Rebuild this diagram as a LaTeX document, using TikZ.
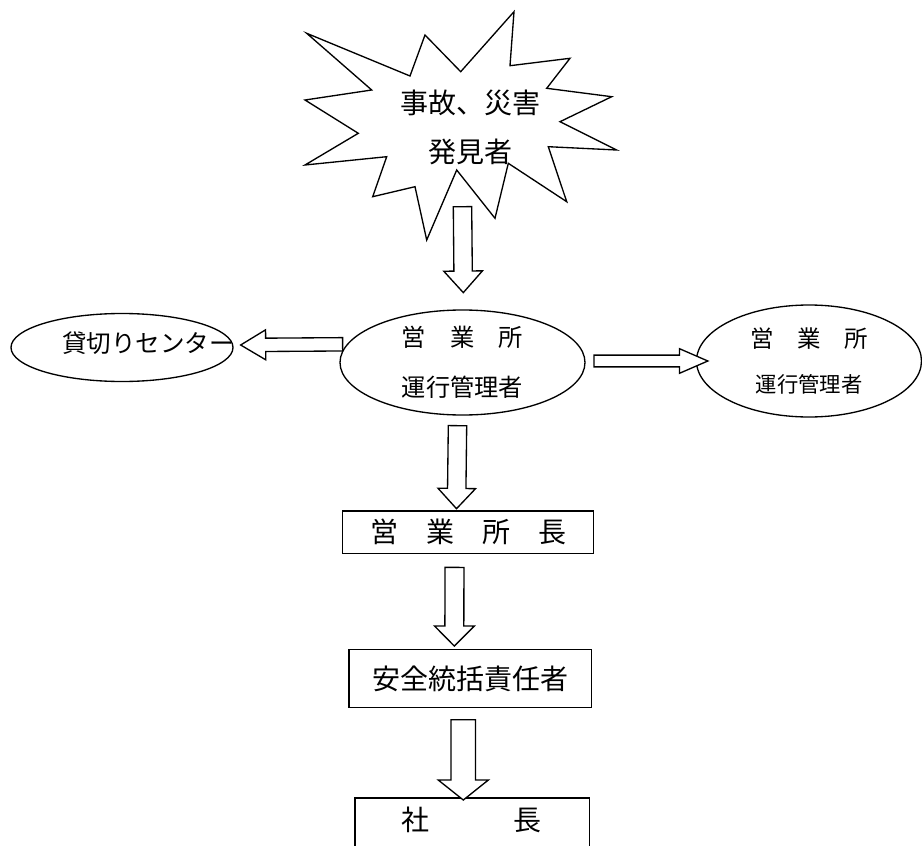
\documentclass[tikz,border=0pt]{standalone}
\usepackage{fontspec}
\setmainfont{Noto Sans CJK JP}
\usetikzlibrary{calc,shapes.geometric}
\newcommand{\jpsize}[2]{\fontsize{#1}{#2}\selectfont}
%% Block arrow: start, tip, shaft half width, head half width, head length
\newcommand{\blockarrow}[5]{%
  \coordinate (ba-h) at ($(#2)!#5!(#1)$);
  \draw[blockline] ($(#1)!#3!90:(#2)$) -- ($(ba-h)!#3!90:(#2)$)
    -- ($(ba-h)!#4!90:(#2)$) -- (#2) -- ($(ba-h)!#4!-90:(#2)$)
    -- ($(ba-h)!#3!-90:(#2)$) -- ($(#1)!#3!-90:(#2)$) -- cycle;}
\tikzset{
  oval/.style={ellipse, draw, line width=1pt, inner sep=0pt, align=center},
  box/.style={rectangle, draw, line width=1pt, inner sep=0pt, align=center},
  blockline/.style={line width=1pt, line join=miter, fill=white, draw},
  burst/.style={draw, line width=1pt, line join=miter}
}

\begin{document}
\begin{tikzpicture}[x=0.75pt,y=-0.75pt]
\useasboundingbox (0,0) rectangle (922,846);

%% Draw the burst and place the finder text in it
\draw[burst] (306.7,33.3) -- (410,76) -- (425,35) -- (460.7,71.7) -- (514,11.7)
  -- (510,65.7) -- (570,58.3) -- (546.7,88.3) -- (611.7,96.7) -- (560,121.7)
  -- (616.7,150) -- (548.3,146.7) -- (566.7,201.7) -- (508.3,163.3) -- (495,218.3)
  -- (456.7,170) -- (426.7,240) -- (415,186.7) -- (372.7,196.7) -- (386.7,156.7)
  -- (305,165) -- (358.3,133.3) -- (305,100) -- (371.7,90) -- cycle;
\node[font=\jpsize{21pt}{36.75pt}, align=center] (finder) at (470,127.5) {事故、災害\\発見者};

%% Place the office ellipse, the rental centre and the second office
\node[oval, minimum width=183.75pt, minimum height=78.75pt, font=\jpsize{18.2pt}{37.5pt}]
  (office) at (462.5,362.5) {営　業　所\\運行管理者};
\node[oval, minimum width=166.5pt, minimum height=51pt] (rental) at (122,347.5) {};
\node[font=\jpsize{18.4pt}{22pt}] at ($(rental)+(26,-4.5)$) {貸切りセンター};
\node[oval, minimum width=168.75pt, minimum height=84pt, font=\jpsize{17.6pt}{33.75pt}]
  (office2) at (809,361) {営　業　所\\\fontsize{16pt}{33.75pt}\selectfont 運行管理者};

%% Place the boxes down the chain
\node[box, minimum width=188pt, minimum height=31.7pt, font=\jpsize{21pt}{25pt}]
  (chief) at (468,532.2) {営　業　所　長};
\node[box, minimum width=182pt, minimum height=43.8pt, font=\jpsize{21pt}{25pt}]
  (safety) at (470.3,678.5) {安全統括責任者};
\node[box, minimum width=175.7pt, minimum height=60pt, anchor=north] (president) at (472.2,797.3) {};
\node[font=\jpsize{21pt}{25pt}] at ($(president.north)+(-1,22.7)$) {社　　　長};

%% Arrow ends
\coordinate (a1s) at (462.5,206.7);
\coordinate (a1t) at ($(office.north)+(0.8,-16.7)$);
\coordinate (a2s) at ($(office.west)+(3.3,-18.2)$);
\coordinate (a2t) at ($(rental.east)+(7,-2.5)$);
\coordinate (a3s) at ($(office.east)+(8.3,-1.5)$);
\coordinate (a3t) at ($(office2.west)+(12,0)$);
\coordinate (a4s) at ($(office.south)+(-5,10)$);
\coordinate (a4t) at ($(chief.north)+(-11.5,-1.7)$);
\coordinate (a5s) at ($(chief.south)+(-13.5,13.4)$);
\coordinate (a5t) at ($(safety.north)+(-16,-2.6)$);
\coordinate (a6s) at ($(safety.south)+(-7,11.3)$);
\coordinate (a6t) at ($(president.north)+(-8.9,2.7)$);

%% Draw the block arrows
\blockarrow{a1s}{a1t}{6.9pt}{14.5pt}{16.2pt}
\blockarrow{a2s}{a2t}{5pt}{11.25pt}{18.75pt}
\blockarrow{a3s}{a3t}{4.4pt}{9.2pt}{21.2pt}
\blockarrow{a4s}{a4t}{6.9pt}{14.1pt}{15.2pt}
\blockarrow{a5s}{a5t}{7.1pt}{14.9pt}{15pt}
\blockarrow{a6s}{a6t}{9.2pt}{18.8pt}{15pt}

\end{tikzpicture}
\end{document}
